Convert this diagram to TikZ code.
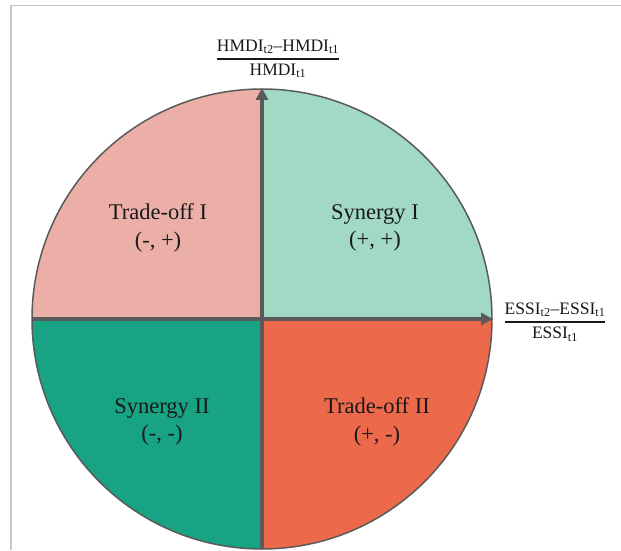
\documentclass[tikz,border=0pt]{standalone}
\usepackage{amsmath}
\usepackage{fontspec}
\setmainfont{Liberation Serif}
\usetikzlibrary{arrows.meta}

\definecolor{tradeI}{HTML}{EBAFA8}
\definecolor{synI}{HTML}{A1D9C5}
\definecolor{synII}{HTML}{17A384}
\definecolor{tradeII}{HTML}{EC6A4B}
\definecolor{axisgray}{HTML}{5A5A5A}

\newcommand{\ratio}[2]{\genfrac{}{}{1.4pt}{0}{#1}{#2}}

\begin{document}
\begin{tikzpicture}[x=1pt, y=1pt,
  quad/.style={align=center, font=\fontsize{22.5}{27.5}\selectfont, text=black!90},
  axislabel/.style={font=\fontsize{17.5}{20}\selectfont, text=black!90, inner sep=0pt},
  axisline/.style={draw=axisgray, line width=3.4pt, -{Triangle[length=12pt,width=12pt]}}]

  \useasboundingbox (0,0) rectangle (621,550);
  % frame of the original figure
  \draw[black!22, line width=1.5pt] (11,0) -- (11,544.5) -- (621,544.5);

  \coordinate (c) at (262,231);

  % four quadrants
  \fill[tradeI]  (c) -- ++(-230,0) arc[start angle=180, end angle=90,  radius=230] -- cycle;
  \fill[synI]    (c) -- ++(0,230)  arc[start angle=90,  end angle=0,   radius=230] -- cycle;
  \fill[synII]   (c) -- ++(-230,0) arc[start angle=180, end angle=270, radius=230] -- cycle;
  \fill[tradeII] (c) -- ++(0,-230) arc[start angle=270, end angle=360, radius=230] -- cycle;
  \draw[axisgray, line width=1.5pt] (c) circle[radius=230];

  \coordinate (west) at (32,231);
  \coordinate (east) at (493,231);
  \coordinate (south) at (262,1);
  \coordinate (north) at (262,462);

  \draw[axisgray, line width=3.4pt] (west) -- (c);
  \draw[axisgray, line width=3.4pt] (south) -- (c);
  \draw[axisline] (c) -- (east);
  \draw[axisline] (c) -- (north);

  \node[quad] (tradeoffI) at (158,322) {Trade-off I\\(-, +)};
  \node[quad] (synergyI) at (375,322) {Synergy I\\(+, +)};
  \node[quad] (synergyII) at (162,128) {Synergy II\\(-, -)};
  \node[quad] (tradeoffII) at (377,128) {Trade-off II\\(+, -)};

  \node[axislabel] (hmdi) at (278,491)
    {$\ratio{\text{HMDI}_{\text{t2}}\text{--HMDI}_{\text{t1}}}{\text{HMDI}_{\text{t1}}}$};
  \node[axislabel] (essi) at (555,228)
    {$\ratio{\text{ESSI}_{\text{t2}}\text{--ESSI}_{\text{t1}}}{\text{ESSI}_{\text{t1}}}$};
\end{tikzpicture}
\end{document}
